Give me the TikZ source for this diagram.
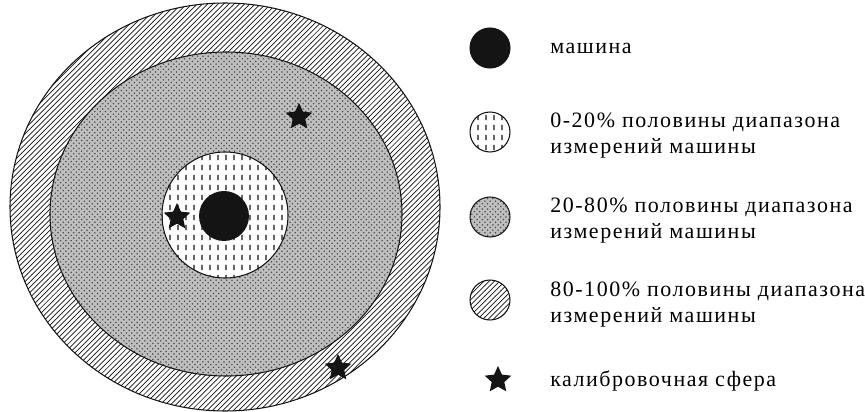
\documentclass[tikz,border=0pt]{standalone}
\usepackage{fontspec}
\setmainfont[LetterSpace=7]{Liberation Serif}
\usetikzlibrary{patterns,shapes.geometric}
\pgfdeclarepatternformonly{vticks}{\pgfqpoint{0pt}{0pt}}{\pgfqpoint{4.5pt}{5.7pt}}{\pgfqpoint{4.5pt}{5.7pt}}{%
  \pgfsetlinewidth{0.7pt}%
  \pgfpathmoveto{\pgfqpoint{2.25pt}{1.2pt}}%
  \pgfpathlineto{\pgfqpoint{2.25pt}{4.4pt}}%
  \pgfusepath{stroke}}
\definecolor{ink}{HTML}{141414}
\tikzset{rim/.style={draw=ink,line width=0.6pt},
  hatch/.style={pattern=north east lines,pattern color=ink},
  grain/.style={fill=gray!50,postaction={pattern=crosshatch dots,pattern color=ink!75}},
  ticks/.style={pattern=vticks,pattern color=ink},
  core/.style={fill=ink},
  sphere/.style={star,star points=5,star point ratio=2.1,fill=ink,inner sep=0pt,minimum size=0.56cm},
  key/.style={circle,rim,minimum size=0.8cm,inner sep=0pt},
  lab/.style={anchor=west,align=left,font=\fontsize{12.5}{14.8}\selectfont,inner sep=0pt}}
\begin{document}
\begin{tikzpicture}[x=0.02cm,y=-0.02cm]
  \useasboundingbox (0,0) rectangle (865,412);
  \fill[white] (0,0) rectangle (865,412);
  \path[hatch,even odd rule] (225,207) ellipse [x radius=215,y radius=204]
    (226,214) ellipse [x radius=176,y radius=162];
  \draw[rim] (225,207) ellipse [x radius=215,y radius=204];
  \path[grain,even odd rule] (226,214) ellipse [x radius=176,y radius=162]
    (225,215) circle [radius=63];
  \draw[rim] (226,214) ellipse [x radius=176,y radius=162];
  \path[ticks] (225,215) circle [radius=63];
  \draw[rim] (225,215) circle [radius=63];
  \node[circle,core,minimum size=1cm,inner sep=0pt] (car) at (224,216) {};
  \node[sphere] (s1) at (299,117) {};
  \node[sphere] (s2) at (177,217) {};
  \node[sphere] (s3) at (338,368) {};
  \node[key,core] (k1) at (490,48) {};
  \node[key,ticks] (k2) at (490,132) {};
  \node[key,grain] (k3) at (490,217) {};
  \node[key,hatch] (k4) at (490,300) {};
  \node[sphere] (k5) at (498,380) {};
  \node[lab] (t1) at (550,48) {машина};
  \node[lab] (t2) at (550,136) {0-20\% половины диапазона\\измерений машины};
  \node[lab] (t3) at (550,221) {20-80\% половины диапазона\\измерений машины};
  \node[lab] (t4) at (550,305) {80-100\% половины диапазона\\измерений машины};
  \node[lab] (t5) at (550,381) {калибровочная сфера};
\end{tikzpicture}
\end{document}
